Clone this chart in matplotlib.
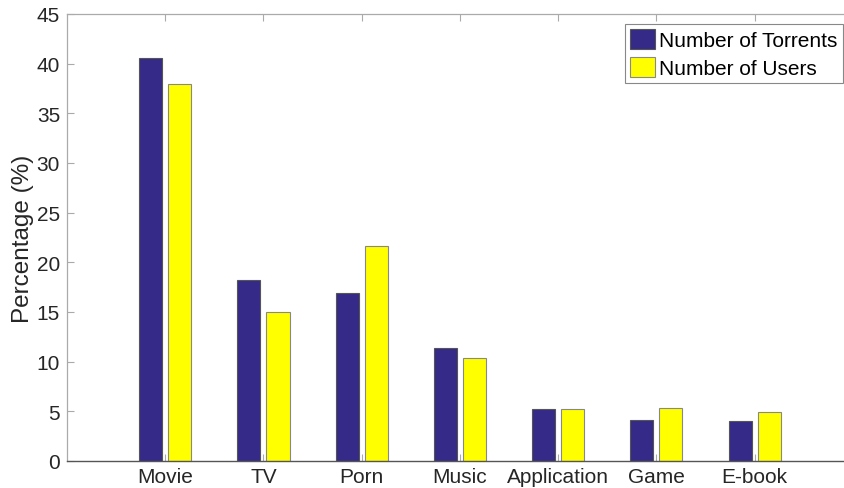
import matplotlib
matplotlib.use("Agg")
import matplotlib.pyplot as plt
import numpy as np

categories = ["Movie", "TV", "Porn", "Music", "Application", "Game", "E-book"]
torrents = [40.6, 18.2, 16.9, 11.4, 5.2, 4.1, 4.05]
users = [38.0, 15.0, 21.65, 10.35, 5.2, 5.3, 4.9]
yticks = [0, 5, 10, 15, 20, 25, 30, 35, 40, 45]

plt.rcParams['font.family'] = ['Liberation Sans', 'DejaVu Sans']

fig = plt.figure(figsize=(8.45, 4.89), dpi=100)
ax = fig.add_axes([67/845, 1-462/489, 1-67/845, (462-15)/489])

x = np.arange(1, len(categories)+1)
w = 0.235
off = 0.148
ax.bar(x-off, torrents, w, color='#352A87', edgecolor='#555555', linewidth=0.8,
       label='Number of Torrents', zorder=2)
ax.bar(x+off, users, w, color='#FFFF00', edgecolor='#888888', linewidth=0.8,
       label='Number of Users', zorder=2)

ax.set_xlim(0, 7.92)
ax.set_ylim(0, 45)
ax.set_yticks(yticks)
ax.set_xticks(x)
ax.set_xticklabels(categories)
ax.tick_params(axis='both', direction='in', length=5, width=0.8, colors='#aaaaaa',
               labelcolor='#262626', labelsize=15)
ax.tick_params(axis='x', top=True, pad=4)
ax.tick_params(axis='y', pad=5)
for s in ['left', 'top']:
    ax.spines[s].set_color('#aaaaaa')
    ax.spines[s].set_linewidth(0.9)
ax.spines['bottom'].set_color('#555555')
ax.spines['bottom'].set_linewidth(1.0)
ax.spines['right'].set_visible(False)
ax.set_ylabel('Percentage (%)', fontsize=17.5, color='#262626', labelpad=2)

leg = ax.legend(loc='upper right', bbox_to_anchor=(843/845, 1-25/489), bbox_transform=fig.transFigure,
                fontsize=15, frameon=True, fancybox=False, framealpha=1,
                edgecolor='#888888', handlelength=1.2, handleheight=1.1,
                handletextpad=0.2, borderpad=0.25, labelspacing=0.3, borderaxespad=0)
leg.get_frame().set_linewidth(0.8)

fig.savefig('out.png', dpi=100)
